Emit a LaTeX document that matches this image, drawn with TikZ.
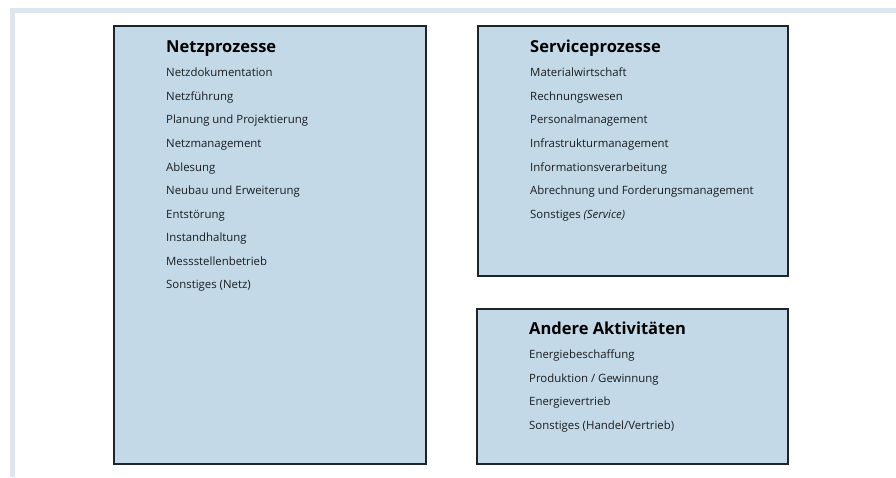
\documentclass[tikz,border=0pt]{standalone}
\usepackage{fontspec}
\setmainfont{Open Sans}
\usetikzlibrary{matrix, positioning}
\definecolor{boxblue}{HTML}{C3D9E7}
\definecolor{framegray}{HTML}{DDE6EC}
\definecolor{boxline}{HTML}{1C2529}
\definecolor{textdark}{HTML}{1A1D20}

\begin{document}
\begin{tikzpicture}[x=1pt, y=-1pt]
    \tikzstyle{every node}=[inner sep=0pt, text=textdark];
    \tikzstyle{item}=[anchor=west, font=\fontsize{11.4}{13}\selectfont, text height=9pt, text depth=2.5pt];
    \tikzstyle{heading}=[anchor=west, font=\fontsize{16.5}{19}\selectfont\bfseries, text=black, text height=13pt, text depth=3.5pt];
    \tikzstyle{group}=[draw=boxline, line width=1.6pt, fill=boxblue, anchor=north west];
    \tikzstyle{list}=[matrix of nodes, nodes={item}, row sep=12.06pt, anchor=north west];
    \useasboundingbox (0,0) rectangle (896,477);
    % page frame
    \fill[framegray] (10,8) rectangle (896,13);
    \fill[framegray] (10,8) rectangle (15,477);
    % group boxes
    \node[group, minimum width=312pt, minimum height=438pt] (netz) at (113,25) {};
    \node[group, minimum width=310pt, minimum height=250pt] (service) at (477,25) {};
    \node[group, minimum width=311pt, minimum height=155pt] (andere) at (476,308) {};
    % lists
    \matrix(N) [list, below right=14pt and 53pt of netz.north west]
    {
      |[heading]| Netzprozesse \\
      Netzdokumentation \\
      Netzführung \\
      Planung und Projektierung \\
      Netzmanagement \\
      Ablesung \\
      Neubau und Erweiterung \\
      Entstörung \\
      Instandhaltung \\
      Messstellenbetrieb \\
      Sonstiges (Netz) \\
    };
    \matrix(S) [list, below right=14pt and 53pt of service.north west]
    {
      |[heading]| Serviceprozesse \\
      Materialwirtschaft \\
      Rechnungswesen \\
      Personalmanagement \\
      Infrastrukturmanagement \\
      Informationsverarbeitung \\
      Abrechnung und Forderungsmanagement \\
      Sonstiges \textit{(Service)} \\
    };
    \matrix(A) [list, below right=13pt and 53pt of andere.north west]
    {
      |[heading]| Andere Aktivitäten \\
      Energiebeschaffung \\
      Produktion / Gewinnung \\
      Energievertrieb \\
      Sonstiges (Handel/Vertrieb) \\
    };
\end{tikzpicture}
\end{document}
